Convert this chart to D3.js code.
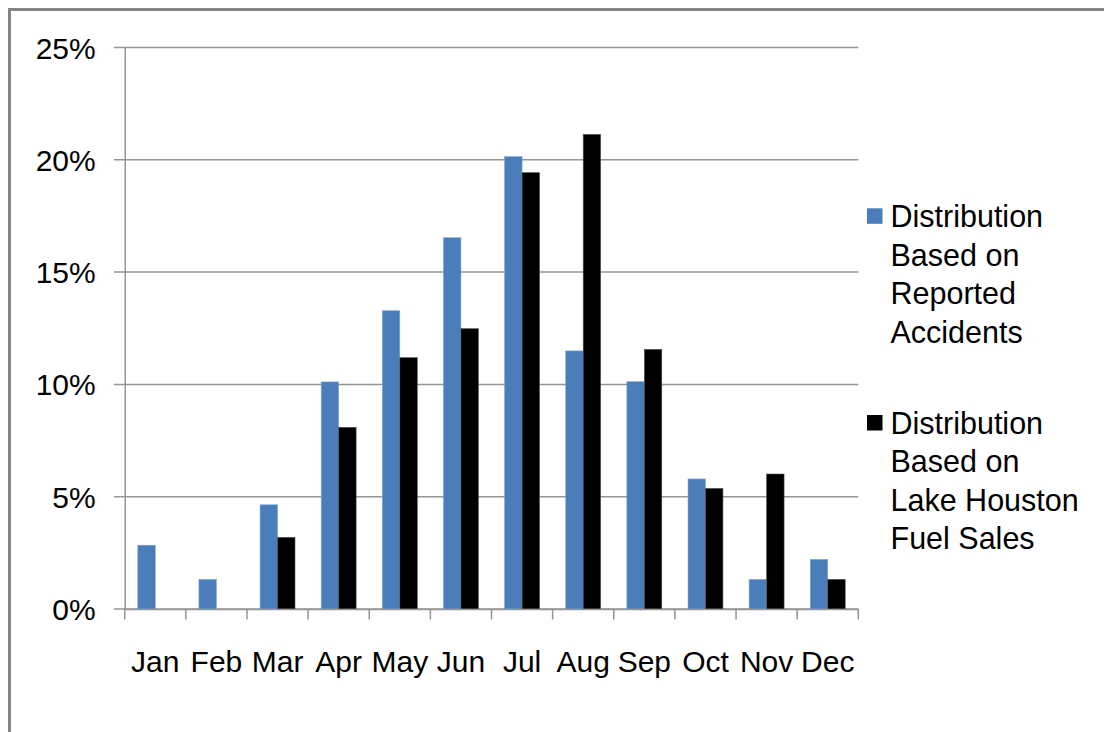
<!DOCTYPE html>
<html>
<head>
<meta charset="utf-8">
<script src="https://cdn.jsdelivr.net/npm/d3@7"></script>
<style>
  body { margin: 0; background: #fff; }
  text { font-family: "Liberation Sans", Arial, sans-serif; fill: #000; }
</style>
</head>
<body>
<script>
var months = ["Jan", "Feb", "Mar", "Apr", "May", "Jun", "Jul", "Aug", "Sep", "Oct", "Nov", "Dec"];
var accidents = [0.0284, 0.0132, 0.0464, 0.1011, 0.1328, 0.1653, 0.2014, 0.1149, 0.1012, 0.0579, 0.0132, 0.0221];
var fuelSales = [0, 0, 0.0319, 0.0809, 0.1119, 0.1248, 0.1943, 0.2113, 0.1156, 0.0537, 0.0601, 0.0132];
var seriesNames = [
  ["Distribution", "Based on", "Reported", "Accidents"],
  ["Distribution", "Based on", "Lake Houston", "Fuel Sales"]
];
var colors = ["#4a7ebb", "#000000"];
var yTicks = [0, 0.05, 0.10, 0.15, 0.20, 0.25];

var svg = d3.select("body").append("svg")
            .attr("width", 1104)
            .attr("height", 732);

// outer frame (runs off the right and bottom edge)
svg.append("rect")
   .attr("x", 9.5).attr("y", 9.5)
   .attr("width", 1200).attr("height", 1000)
   .attr("fill", "#fff")
   .attr("stroke", "#858585")
   .attr("stroke-width", 3);

var x0 = d3.scaleBand().domain(months).range([124.7, 858.3]).padding(0);
var bw = x0.bandwidth();
var w = bw / 3.5;
var x1 = d3.scaleBand().domain([0, 1]).range([0.75 * w, 2.75 * w]).padding(0);
var y = d3.scaleLinear().domain([0, 0.25]).range([609, 47.5]);

// gridlines
svg.append("g")
   .selectAll("line")
   .data(yTicks)
   .enter().append("line")
   .attr("x1", 114).attr("x2", 858.3)
   .attr("y1", function(d) { return y(d); })
   .attr("y2", function(d) { return y(d); })
   .attr("stroke", "#959595")
   .attr("stroke-width", 1.5);

// y axis
var yAxis = svg.append("g")
   .attr("transform", "translate(124.7,0)")
   .call(d3.axisLeft(y).tickValues(yTicks).tickFormat(d3.format(".0%")).tickSize(0).tickPadding(29));
yAxis.select(".domain").attr("stroke", "#959595").attr("stroke-width", 1.5);
yAxis.selectAll("text").attr("font-size", 30).attr("dy", "0.35em").style("font-family", "Liberation Sans, Arial, sans-serif");

// bars
var data = [accidents, fuelSales];
data.forEach(function(vals, s) {
  svg.append("g")
     .selectAll("rect")
     .data(vals)
     .enter().append("rect")
     .attr("x", function(d, i) { return x0(months[i]) + x1(s); })
     .attr("width", x1.bandwidth())
     .attr("y", function(d) { return y(d); })
     .attr("height", function(d) { return y(0) - y(d); })
     .attr("fill", colors[s])
     .attr("stroke", s === 0 ? "#7ea6d8" : "#555")
     .attr("stroke-width", 0.6)
     .attr("display", function(d) { return d > 0 ? null : "none"; });
});

// x axis
var xAxis = svg.append("g")
   .attr("transform", "translate(0,609)")
   .call(d3.axisBottom(x0).tickSize(0).tickPadding(63));
xAxis.select(".domain").attr("stroke", "#959595").attr("stroke-width", 1.5);
xAxis.selectAll("text").attr("font-size", 30).attr("dy", "0").style("font-family", "Liberation Sans, Arial, sans-serif");

// x tick marks at category boundaries
svg.append("g")
   .selectAll("line")
   .data(months.concat(["end"]))
   .enter().append("line")
   .attr("x1", function(d, i) { return 124.7 + i * bw; })
   .attr("x2", function(d, i) { return 124.7 + i * bw; })
   .attr("y1", 609).attr("y2", 619.5)
   .attr("stroke", "#959595")
   .attr("stroke-width", 1.5);

// legend
var legend = svg.append("g");
var entryY = [227.3, 434];
seriesNames.forEach(function(lines, s) {
  legend.append("rect")
        .attr("x", 867).attr("y", entryY[s] - 19)
        .attr("width", 15.5).attr("height", 15.5)
        .attr("fill", colors[s]);
  var t = legend.append("text")
        .attr("x", 890.5).attr("y", entryY[s])
        .attr("font-size", 30.5);
  lines.forEach(function(line, i) {
    t.append("tspan")
     .attr("x", 890.5)
     .attr("y", entryY[s] + i * 38.4)
     .text(line);
  });
});
</script>
</body>
</html>
